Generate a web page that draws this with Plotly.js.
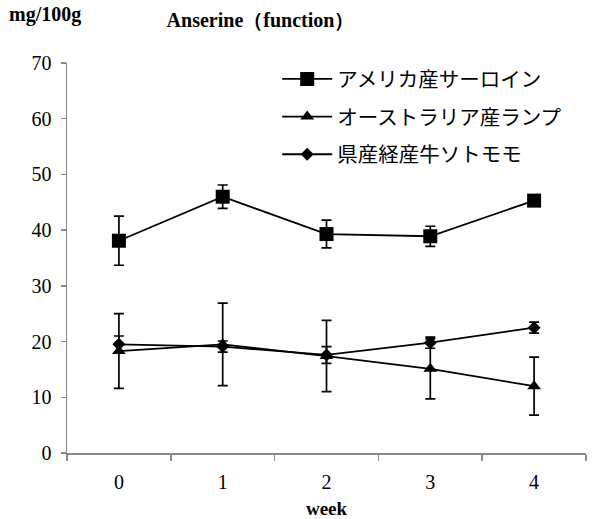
<!DOCTYPE html>
<html>
<head>
<meta charset="utf-8">
<script src="https://cdn.plot.ly/plotly-3.0.1.min.js"></script>
<style>html,body{margin:0;padding:0;background:#fff;}#chart{width:603px;height:519px;}</style>
</head>
<body>
<div id="chart"></div>
<script>
const weeks = ['0', '1', '2', '3', '4'];
const seriesNames = ['アメリカ産サーロイン', 'オーストラリア産ランプ', '県産経産牛ソトモモ'];
const usSirloin = [38.1, 46.0, 39.3, 38.9, 45.3];
const usSirloinErr = [4.4, 2.1, 2.5, 1.8, 0.4];
const ausRump = [18.3, 19.5, 17.4, 15.1, 12.0];
const ausRumpErr = [6.7, 7.4, 6.4, 5.4, 5.2];
const prefRound = [19.5, 19.1, 17.6, 19.8, 22.5];
const prefRoundErr = [1.5, 1.0, 1.5, 1.0, 1.0];
const yTicks = [0, 10, 20, 30, 40, 50, 60, 70];

const serif = '"Liberation Serif", "Times New Roman", serif';
const cjk = '"Noto Sans CJK JP", sans-serif';

function mk(name, y, err, symbol, size, group) {
  return {
    type: 'scatter', mode: 'lines+markers', x: weeks, y: y, name: name,
    legendgroup: group,
    line: {color: '#000', width: 1.8},
    marker: {symbol: symbol, size: size, color: '#000'},
    error_y: {type: 'data', array: err, visible: true, color: '#000', thickness: 1.7, width: 5}
  };
}

const data = [
  mk(seriesNames[0], usSirloin, usSirloinErr, 'square', 14, 'a'),
  mk(seriesNames[1], ausRump, ausRumpErr, 'triangle-up', 12, 'b'),
  mk(seriesNames[2], prefRound, prefRoundErr, 'diamond', 10, 'c')
];

const layout = {
  width: 603, height: 519,
  margin: {l: 67, r: 17, t: 63, b: 66},
  paper_bgcolor: '#fff', plot_bgcolor: '#fff',
  title: {text: '<b>Anserine（function）</b>', x: 0.432, xanchor: 'center', y: 0.962, yanchor: 'middle',
          font: {family: serif, size: 20, color: '#000'}},
  font: {family: serif, color: '#000'},
  xaxis: {
    type: 'category', range: [-0.5, 4.5], tickson: 'boundaries',
    showline: true, linecolor: '#888', linewidth: 1.5,
    ticks: 'outside', ticklen: 6, tickcolor: '#888', tickwidth: 1.5,
    ticklabelstandoff: 10,
    showgrid: false, zeroline: false,
    tickfont: {family: serif, size: 20, color: '#000'},
    title: {text: '<b>week</b>', font: {family: serif, size: 19, color: '#000'}, standoff: 11}
  },
  yaxis: {
    range: [0, 70], tickvals: yTicks, ticktext: yTicks.map(String),
    showline: true, linecolor: '#888', linewidth: 1.5,
    ticks: 'outside', ticklen: 5, tickcolor: '#888', tickwidth: 1.5,
    ticklabelstandoff: 5,
    showgrid: false, zeroline: false,
    tickfont: {family: serif, size: 20, color: '#000'}
  },
  showlegend: true,
  legend: {
    x: 0.405, y: 1.01, xanchor: 'left', yanchor: 'top',
    bgcolor: 'rgba(0,0,0,0)', borderwidth: 0,
    font: {family: cjk, size: 20.5, color: '#000'},
    traceorder: 'grouped', tracegroupgap: 8, itemwidth: 50
  },
  annotations: [
    {text: '<b>mg/100g</b>', xref: 'paper', yref: 'paper', x: -0.115, y: 1.125,
     xanchor: 'left', yanchor: 'middle', showarrow: false,
     font: {family: serif, size: 20, color: '#000'}}
  ]
};

Plotly.newPlot('chart', data, layout, {displayModeBar: false, staticPlot: true});
</script>
</body>
</html>
